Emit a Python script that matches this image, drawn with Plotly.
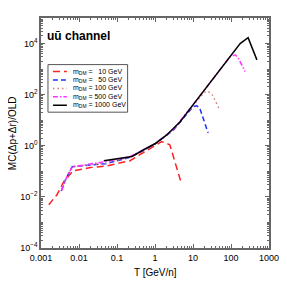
import plotly.graph_objects as go

# ---- data ----
T_10 = [0.0016, 0.0026, 0.004, 0.007, 0.02, 0.05, 0.1, 0.22, 0.4, 0.9, 1.5, 2.45, 4.8]
Y_10 = [0.0049, 0.0118, 0.04, 0.105, 0.14, 0.16, 0.2, 0.26, 0.45, 0.89, 1.45, 1.1, 0.039]

T_50 = [0.0034, 0.0045, 0.0066, 0.02, 0.05, 0.2, 0.5, 1.0, 3.0, 10.0, 12.6, 15.0, 25.0]
Y_50 = [0.017, 0.05, 0.15, 0.17, 0.2, 0.34, 0.65, 1.2, 4.0, 34.0, 37.0, 30.0, 3.2]

T_100 = [0.0035, 0.0045, 0.0066, 0.02, 0.05, 0.2, 0.5, 1.0, 3.0, 10.0, 20.0, 25.0, 32.0, 48.0]
Y_100 = [0.018, 0.05, 0.15, 0.18, 0.21, 0.35, 0.66, 1.2, 4.2, 38.0, 125.0, 135.0, 100.0, 30.0]

T_500 = [0.0035, 0.0045, 0.0066, 0.02, 0.035, 0.2, 0.5, 1.0, 3.0, 10.0, 34.0, 93.0, 130.0, 160.0, 235.0]
Y_500 = [0.018, 0.05, 0.15, 0.19, 0.22, 0.36, 0.68, 1.2, 4.3, 40.0, 430.0, 3000.0, 3600.0, 2500.0, 800.0]

T_1000 = [0.045, 0.12, 0.25, 0.5, 1.0, 2.0, 4.6, 10.0, 34.0, 93.0, 174.0, 282.0, 480.0]
Y_1000 = [0.26, 0.32, 0.38, 0.7, 1.2, 2.6, 8.7, 40.0, 430.0, 3100.0, 10000.0, 17000.0, 2300.0]

LABELS = ["m<sub>DM</sub> =   10 GeV", "m<sub>DM</sub> =   50 GeV", "m<sub>DM</sub> = 100 GeV",
          "m<sub>DM</sub> = 500 GeV", "m<sub>DM</sub> = 1000 GeV"]

X_TICKVALS = [0.001, 0.01, 0.1, 1, 10, 100, 1000]
X_TICKTEXT = ["0.001", "0.01", "0.1", "1", "10", "100", "1000"]
X_MINOR = [m * 10.0 ** k for k in range(-3, 3) for m in range(2, 10)]
Y_TICKVALS = [1e-4, 1e-2, 1, 100, 1e4]
Y_TICKTEXT = ["10<sup>−4</sup>", "10<sup>−2</sup>", "10<sup>0</sup>", "10<sup>2</sup>", "10<sup>4</sup>"]
Y_MINOR = [m * 10.0 ** k for k in range(-4, 5) for m in range(2, 11)]

COLORS = ["#ff2020", "#2030ff", "#d08080", "#ff30ff", "#000000"]
DASHES = ["7px,4px", "5px,3px", "1.5px,3px", "5px,2px,1.5px,2px", "solid"]

FONT = "Liberation Sans, Arial, sans-serif"
FRAME = "#666666"

series = [(T_10, Y_10), (T_50, Y_50), (T_100, Y_100), (T_500, Y_500), (T_1000, Y_1000)]

fig = go.Figure()
for (t, y), c, d, lab in zip(series, COLORS, DASHES, LABELS):
    fig.add_trace(go.Scatter(x=t, y=y, mode="lines", name=lab,
                             line=dict(color=c, dash=d, width=1.5), showlegend=False))

# page has an 8px body margin: figure is drawn at (8,8) in the window
OFF = 8
W = H = 287 - OFF
# plot area in window pixels
L, R, TOP, BOT = 41, 270, 16, 248
def px(xp):
    return (xp - L) / (R - L)
def py(yp):
    return (BOT - yp) / (BOT - TOP)

shapes = []
annotations = []
# legend box
shapes.append(dict(type="rect", xref="paper", yref="paper", x0=px(48), x1=px(128), y0=py(111), y1=py(63),
                   line=dict(color="#555", width=1), fillcolor="white", layer="above"))
rows = [70, 78.5, 87, 95.5, 104]
for r, c, d, lab in zip(rows, COLORS, DASHES, LABELS):
    shapes.append(dict(type="line", xref="paper", yref="paper", x0=px(53), x1=px(67), y0=py(r), y1=py(r),
                       line=dict(color=c, dash=d, width=1.5), layer="above"))
    annotations.append(dict(text=lab, xref="paper", yref="paper", x=px(71), y=py(r), xanchor="left",
                            yanchor="middle", showarrow=False, font=dict(size=7, family=FONT, color="black")))

annotations.append(dict(text="<b>uū channel</b>", xref="paper", yref="paper", x=px(45), y=py(34),
                        xanchor="left", yanchor="middle", showarrow=False,
                        font=dict(size=12, family=FONT, color="black")))
annotations.append(dict(text="T [GeV/n]", xref="paper", yref="paper", x=0.5, y=py(273),
                        xanchor="center", yanchor="middle", showarrow=False,
                        font=dict(size=10, family=FONT, color="black")))
annotations.append(dict(text="MC(Δp+Δr)/OLD", xref="paper", yref="paper", x=px(12), y=0.5,
                        xanchor="center", yanchor="middle", showarrow=False, textangle=-90,
                        font=dict(size=10, family=FONT, color="black")))

axis_common = dict(type="log", showline=True, linecolor=FRAME, linewidth=1.5, mirror="allticks",
                   ticks="inside", ticklen=4, tickcolor=FRAME, showgrid=False, zeroline=False,
                   tickfont=dict(size=9, family=FONT, color="black"))

fig.update_layout(
    width=W, height=H,
    margin=dict(l=L - OFF, r=(W + OFF) - R, t=TOP - OFF, b=(H + OFF) - BOT, pad=0),
    paper_bgcolor="white", plot_bgcolor="white",
    xaxis=dict(range=[-3, 3], tickvals=X_TICKVALS, ticktext=X_TICKTEXT,
               minor=dict(tickvals=X_MINOR, ticks="inside", ticklen=2, tickcolor=FRAME, showgrid=False),
               **axis_common),
    yaxis=dict(range=[-4, 5], tickvals=Y_TICKVALS, ticktext=Y_TICKTEXT,
               minor=dict(tickvals=Y_MINOR, ticks="inside", ticklen=2, tickcolor=FRAME, showgrid=False),
               **axis_common),
    shapes=shapes, annotations=annotations, showlegend=False,
)
fig.write_html("out.html")
